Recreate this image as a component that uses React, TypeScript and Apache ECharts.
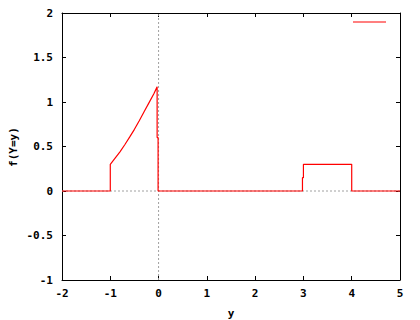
import React, { useEffect, useRef } from "react";
import * as echarts from "echarts";

const xTicks = [-2, -1, 0, 1, 2, 3, 4, 5];
const yTicks = [-1, -0.5, 0, 0.5, 1, 1.5, 2];

// density f(Y=y) as drawn (x positions and values)
const densX = [-2, -1, -1, -0.9, -0.8, -0.7, -0.6, -0.5, -0.4, -0.3, -0.2, -0.1, -0.03, -0.03, -0.01, -0.01, 2.98, 2.98, 3, 3, 4, 4, 5];
const densY = [0, 0, 0.3, 0.37, 0.44, 0.52, 0.605, 0.693, 0.79, 0.89, 0.99, 1.09, 1.17, 0.6, 0.6, 0, 0, 0.15, 0.15, 0.3, 0.3, 0, 0];

const FONT = "'DejaVu Sans Mono', monospace";

export default function App() {
  const ref = useRef<HTMLDivElement>(null);
  useEffect(() => {
    document.body.style.margin = "0";
    const chart = echarts.init(ref.current!, null, { renderer: "svg" });
    const label = { color: "#000", fontFamily: FONT, fontWeight: "bold", fontSize: 11 };
    const axisLine = { show: true, lineStyle: { color: "#000", width: 1 } };
    const tick = { show: true, inside: true, length: 4, lineStyle: { color: "#000" } };
    chart.setOption({
      animation: false,
      backgroundColor: "#fff",
      grid: { left: 62, right: 20, top: 13, bottom: 40 },
      xAxis: [
        { type: "value", min: xTicks[0], max: xTicks[xTicks.length - 1], interval: 1, axisLine: { ...axisLine, onZero: false }, axisTick: tick, splitLine: { show: false }, axisLabel: { ...label, margin: 8 } },
        { type: "value", position: "top", min: xTicks[0], max: xTicks[xTicks.length - 1], interval: 1, axisLine: { ...axisLine, onZero: false }, axisTick: tick, splitLine: { show: false }, axisLabel: { show: false } },
      ],
      yAxis: [
        { type: "value", min: yTicks[0], max: yTicks[yTicks.length - 1], interval: 0.5, axisLine: { ...axisLine, onZero: false }, axisTick: tick, splitLine: { show: false }, axisLabel: { ...label, margin: 9 } },
        { type: "value", position: "right", min: yTicks[0], max: yTicks[yTicks.length - 1], interval: 0.5, axisLine: { ...axisLine, onZero: false }, axisTick: tick, splitLine: { show: false }, axisLabel: { show: false } },
      ],
      series: [
        { type: "line", data: [[0, -1], [0, 2]], showSymbol: false, symbol: "none", lineStyle: { color: "#a0a0a0", width: 1, type: [2, 2] }, silent: true },
        { type: "line", data: [[-2, 0], [5, 0]], showSymbol: false, symbol: "none", lineStyle: { color: "#a0a0a0", width: 1, type: [2, 2] }, silent: true },
        { type: "line", data: densX.map((x, i) => [x, densY[i]]), showSymbol: false, symbol: "none", lineStyle: { color: "#ff0000", width: 1.2 }, z: 5 },
      ],
      graphic: [
        { type: "line", shape: { x1: 353, y1: 22, x2: 386, y2: 22 }, style: { stroke: "#ff0000", lineWidth: 1.2 } },
        { type: "text", x: 13, y: 147, rotation: Math.PI / 2, style: { text: "f(Y=y)", fill: "#000", font: `bold 11px ${FONT}`, align: "center", verticalAlign: "middle" } },
        { type: "text", x: 231, y: 313, style: { text: "y", fill: "#000", font: `bold 11px ${FONT}`, align: "center", verticalAlign: "middle" } },
      ],
    });
    return () => chart.dispose();
  }, []);
  return <div ref={ref} style={{ width: 420, height: 320 }} />;
}
